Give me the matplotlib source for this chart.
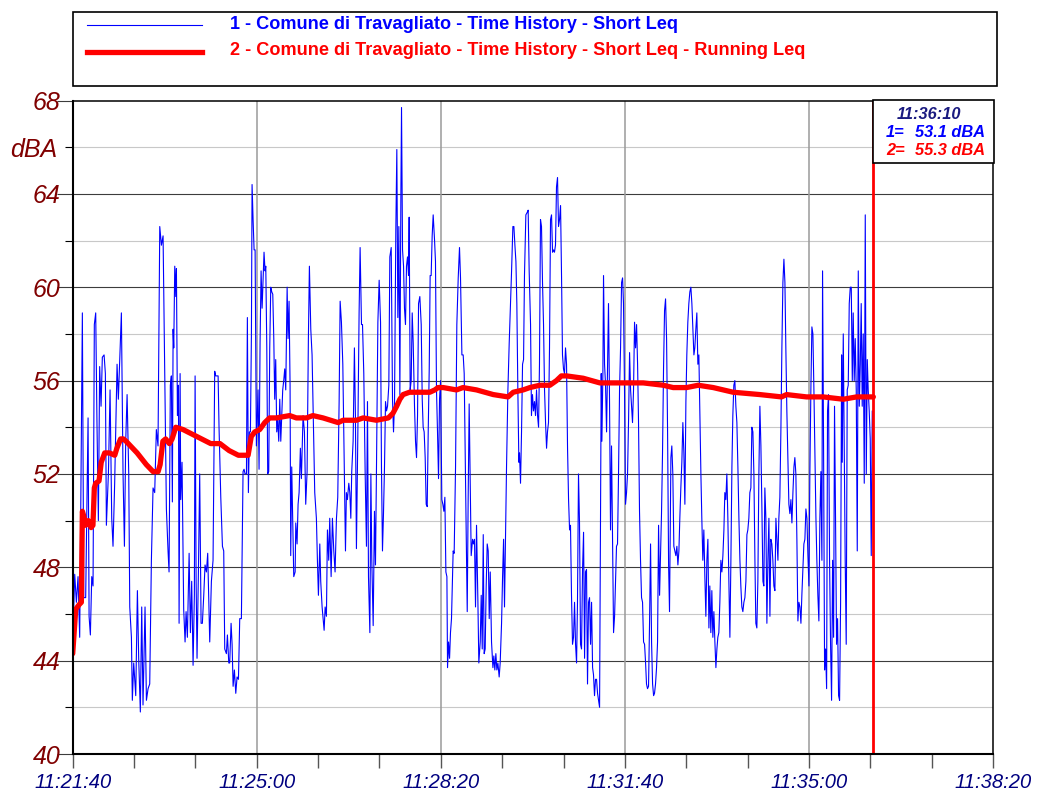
import matplotlib
matplotlib.use("Agg")
import matplotlib.pyplot as plt
from matplotlib.ticker import FixedLocator, FixedFormatter
from matplotlib.patches import Rectangle
from matplotlib.lines import Line2D

# ---------------- data ----------------
series1_name = "1 - Comune di Travagliato - Time History - Short Leq"
series2_name = "2 - Comune di Travagliato - Time History - Short Leq - Running Leq"

x_tick_seconds = [0, 200, 400, 600, 800, 1000]
x_tick_labels = ["11:21:40", "11:25:00", "11:28:20", "11:31:40", "11:35:00", "11:38:20"]
y_major_ticks = [40, 44, 48, 52, 56, 60, 64, 68]
y_minor_ticks = [42, 46, 50, 54, 58, 62, 66]
y_unit = "dBA"

cursor_seconds = 870
cursor_label = "11:36:10"
cursor_value1 = 53.1
cursor_value2 = 55.3

# Short Leq (series 1): seconds from 11:21:40, level in dBA
short_t = [
    0.0, 2.2, 4.0, 5.8, 7.6, 10.5, 12.0, 14.1, 16.7, 17.8,
    19.2, 20.7, 22.1, 23.5, 25.0, 26.4, 27.9, 29.3, 30.8, 32.2,
    34.1, 35.5, 36.6, 38.8, 40.6, 42.4, 43.8, 45.6, 48.2, 49.6,
    51.1, 52.9, 54.7, 56.2, 57.6, 59.1, 60.9, 62.0, 63.8, 64.8,
    66.3, 68.5, 70.3, 71.7, 73.5, 75.0, 76.4, 78.6, 80.1, 81.9,
    83.7, 85.5, 87.3, 89.1, 90.9, 92.7, 94.6, 96.4, 98.2, 100.0,
    101.8, 103.6, 104.7, 106.1, 107.2, 108.3, 109.1, 109.8, 110.9, 112.0,
    112.7, 113.8, 114.9, 115.6, 116.7, 117.4, 118.8, 120.6, 122.1, 123.2,
    124.6, 126.5, 127.9, 129.3, 130.8, 132.2, 133.0, 134.1, 135.1, 136.6,
    138.0, 139.5, 140.9, 142.4, 143.8, 145.3, 146.7,
    148.9, 150.7, 152.5, 154.3, 155.4, 156.9, 158.0, 159.0, 160.9, 162.7,
    164.1, 165.2, 167.0, 168.1, 169.6, 170.6, 172.1, 173.2, 174.3, 175.7,
    177.2, 178.6, 180.1, 181.5, 183.3, 185.1, 186.2, 187.3, 188.8, 189.8,
    190.9, 192.0, 193.1, 194.2, 194.9, 196.0, 197.1, 198.2, 199.6, 201.4,
    202.5, 203.6, 204.7, 205.8, 206.9, 207.9, 209.0, 209.8, 210.9, 211.9,
    213.0, 214.1, 215.2, 216.3, 217.4, 218.5, 219.5, 220.6, 221.7, 222.8,
    223.9, 225.0, 226.1, 227.2, 228.2, 229.3, 230.4, 231.5, 233.0, 234.0,
    235.1, 236.2, 236.9, 238.0, 239.1, 240.2, 241.7, 242.4, 243.8, 244.9,
    246.0, 247.4, 248.5, 250.3, 251.8, 253.2, 254.7, 256.1, 257.2, 258.7,
    260.1, 261.6, 263.0, 264.8, 265.9, 267.0, 268.5, 269.5, 271.0, 272.1,
    273.2, 274.3, 275.7, 276.8, 278.2, 279.3, 280.8, 282.2, 283.7, 285.1,
    286.6, 288.0, 289.5, 290.6, 292.0, 293.5, 294.9, 296.4, 297.4, 298.5,
    300.0, 301.1, 302.2, 303.2, 304.7, 306.1, 307.2, 308.3, 309.8, 311.2,
    312.3,
    313.8, 314.9, 316.3, 317.8, 319.2, 320.3, 321.4, 322.9, 324.0, 325.0,
    326.5, 327.9, 329.0, 330.1, 331.6, 333.0, 334.5, 335.5, 336.6, 337.7,
    338.8, 339.9, 341.0, 342.1, 343.5, 344.6, 346.1, 347.5, 348.6, 349.7,
    351.1, 352.2, 353.3, 354.4, 355.5, 356.6, 357.3, 358.4, 359.5, 360.5,
    361.6, 362.7, 363.8, 364.9, 365.6, 366.7, 367.8, 368.9, 370.0, 371.4,
    372.5, 373.6, 374.7, 375.8, 377.2, 378.7, 379.8, 380.8, 381.9, 383.0,
    384.1, 385.2, 386.3, 387.4, 388.4, 389.5, 390.6, 391.7, 393.2, 394.2,
    395.3, 396.4, 397.5, 398.6, 399.7, 401.1, 402.2, 403.3, 404.4, 405.5,
    406.6, 407.3, 408.4, 409.5, 410.5, 411.6, 413.4, 414.5, 416.0, 417.4,
    418.9, 420.3, 421.4, 422.9, 424.3, 425.4, 426.5, 427.6, 428.7, 429.7,
    430.8, 431.9, 433.0, 434.5, 435.5, 436.6, 437.7, 438.8, 440.3, 441.3,
    442.8, 443.9, 445.0, 446.1, 447.1, 448.2, 449.3, 450.4, 451.5, 452.6,
    453.7, 455.1, 456.6, 457.6, 458.7, 459.8, 460.9, 462.0, 463.4, 464.5,
    466.0, 467.1, 468.2, 469.2, 470.3, 471.4, 472.9, 474.3, 475.8, 476.8,
    478.3, 479.4, 480.5, 481.6, 482.6, 483.7, 484.8,
    485.5, 486.6, 487.7, 488.8, 489.9, 490.9, 492.4, 493.8, 494.9, 496.0,
    497.5, 498.5, 499.6, 500.7, 501.8, 502.9, 504.0, 505.1, 506.2, 507.2,
    508.3, 509.4, 510.5, 511.6, 512.7, 513.8, 514.9, 515.9, 517.0, 518.1,
    519.2, 520.3, 521.4, 522.5, 523.5, 524.6, 525.7, 526.8, 527.9, 529.0,
    530.1, 531.2, 532.2, 533.3, 534.4, 535.5, 536.6, 537.7, 538.8, 539.9,
    540.9, 542.0, 543.1, 544.2, 545.3, 546.4, 547.5, 548.5, 549.6, 550.7,
    551.8, 552.9, 554.0, 555.1, 556.2, 557.2, 558.3, 559.4, 560.5, 561.6,
    562.7, 563.8, 564.9, 565.9, 567.0, 568.1, 569.2, 570.3, 571.4, 572.5,
    573.5, 574.3, 575.0, 576.1, 576.8, 577.9, 579.0, 580.1, 581.2, 582.2,
    583.3, 584.4, 585.5, 586.6, 587.7, 588.8, 589.8, 590.9, 592.0, 593.1,
    594.2, 595.3, 596.4, 597.5, 598.5, 599.6, 600.7, 601.8, 602.9, 604.0,
    605.1, 606.2, 607.2, 608.3, 609.4, 610.5, 611.6, 612.7, 613.8, 614.8,
    615.9, 617.0, 618.1, 619.2, 620.3, 621.4, 622.5, 623.5, 624.6, 625.7,
    626.8, 627.9, 629.0, 630.1, 631.2, 632.2, 633.3, 634.4, 635.5, 636.6,
    637.7, 638.8, 639.8, 640.9, 642.0, 643.1, 644.2, 645.3, 646.4, 647.5,
    648.5,
    650.0, 651.0, 652.1, 653.2, 654.3, 655.4, 656.5, 657.6, 658.7, 659.7,
    660.8, 661.9, 663.0, 664.1, 665.2, 666.3, 667.3, 668.4, 669.5, 670.6,
    671.7, 672.8, 673.9, 675.0, 676.0, 677.1, 678.2, 679.3, 680.4, 681.5,
    682.6, 683.6, 684.7, 685.8, 686.9, 688.0, 689.1, 690.2, 691.3, 692.3,
    693.4, 694.5, 695.6, 696.7, 697.8, 698.9, 700.0, 701.0, 702.1, 703.2,
    704.3, 705.4, 706.5, 707.6, 708.6, 709.7, 710.8, 711.9, 713.0, 714.1,
    715.2, 716.3, 717.3, 718.4, 719.5, 720.6, 721.7, 722.8, 723.9, 725.0,
    726.0, 727.1, 728.2, 729.3, 730.4, 731.5, 732.6, 733.6, 734.7, 735.8,
    736.9, 738.0, 739.1, 740.2, 741.3, 742.3, 743.4, 744.5, 745.6, 746.7,
    747.8, 748.9, 750.0, 751.0, 752.1, 753.2, 754.3, 755.4, 756.5, 757.6,
    758.6, 759.7, 760.8, 761.9, 763.0, 764.1, 765.2, 766.3, 767.3, 768.4,
    769.5, 770.6, 771.7, 772.8, 773.9, 774.9, 776.0, 777.1, 778.2,
    779.3, 780.4, 781.5, 782.6, 783.7, 784.7, 785.8, 786.9, 788.0, 789.1,
    790.2, 791.3, 792.3, 793.4, 794.5, 795.6, 796.7, 797.8, 798.9, 800.0,
    801.0, 802.1, 803.2, 804.3, 805.4, 806.5, 807.6, 808.6, 809.7, 810.8,
    811.9, 813.0, 814.1, 814.8, 815.9, 817.0, 818.1, 819.2, 820.2, 821.3,
    822.4, 823.5, 824.6, 825.7, 826.8, 827.8, 828.9, 830.0, 831.1, 832.2,
    833.3, 834.4, 835.5, 836.2, 837.3, 838.4, 839.4, 840.5, 841.6, 842.7,
    843.8, 844.9, 846.0, 847.1, 848.1, 849.2, 850.3, 851.4, 852.5, 853.6,
    854.7, 855.8, 856.8, 857.9, 859.0, 860.1, 861.2, 862.3, 863.4, 864.4,
    865.5, 866.6, 867.7, 868.8, 870.0,
]
short_db = [
    44.7, 47.7, 46.5, 47.6, 45.0, 58.9, 46.7, 46.7, 54.4, 45.9,
    45.1, 47.6, 47.2, 58.4, 58.9, 54.1, 50.0, 56.6, 54.9, 57.0,
    57.1, 56.3, 49.8, 52.0, 55.6, 50.1, 48.9, 51.6, 56.7, 55.2,
    56.9, 58.9, 52.0, 48.9, 53.4, 55.4, 52.0, 46.3, 45.0, 42.3,
    43.9, 42.5, 47.0, 44.1, 41.8, 46.3, 42.1, 46.3, 42.3, 42.8,
    43.0, 48.3, 51.4, 51.2, 53.9, 53.2, 62.6, 61.8, 62.2, 56.5,
    50.5, 48.7, 47.8, 55.8, 56.2, 50.8, 58.2, 57.4, 60.9, 59.6,
    60.8, 54.5, 55.8, 45.6, 56.3, 50.9, 52.5, 46.2, 44.8, 46.1,
    45.0, 48.6, 45.2, 47.4, 43.8, 46.8, 56.2, 47.4, 44.1, 47.8,
    52.0, 45.6, 45.6, 46.8, 48.1, 47.8, 48.6,
    44.8, 47.4, 48.3, 56.4, 56.2, 56.2, 56.2, 54.0, 51.0, 48.9,
    48.7, 44.5, 44.3, 45.1, 43.9, 43.9, 45.6, 44.7, 42.9, 43.6,
    42.6, 43.3, 43.2, 45.8, 45.8, 52.1, 52.2, 52.0, 52.0, 58.7,
    51.2, 53.8, 53.8, 58.0, 64.4, 62.9, 61.6, 61.6, 53.2, 55.6,
    52.2, 57.6, 60.7, 59.1, 60.4, 61.5, 60.7, 60.9, 57.4, 52.0,
    52.1, 57.4, 60.0, 59.8, 59.7, 57.8, 55.2, 56.9, 53.8, 54.3,
    53.4, 55.2, 53.4, 54.5, 55.6, 56.0, 56.5, 55.6, 60.0, 57.8,
    59.4, 55.8, 48.5, 52.3, 49.9, 47.6, 47.8, 49.9, 49.0, 50.7,
    51.2, 53.1, 51.8, 54.5, 53.8, 50.7, 52.1, 57.8, 60.9, 58.2,
    57.1, 54.0, 51.2, 50.1, 48.3, 46.8, 49.0, 47.4, 46.3, 45.8,
    45.3, 46.3, 45.9, 49.6, 48.3, 50.1, 47.6, 50.1, 48.7, 47.8,
    50.1, 51.0, 55.1, 59.4, 58.5, 56.7, 52.9, 48.7, 51.2, 50.9,
    51.6, 51.2, 50.1, 52.1, 53.4, 57.4, 54.5, 48.8, 53.6, 58.9,
    61.7,
    58.4, 58.4, 56.3, 52.0, 48.9, 55.1, 47.6, 45.2, 52.0, 48.3,
    45.5, 50.4, 48.1, 52.3, 58.5, 60.3, 58.5, 52.3, 48.7, 50.3,
    52.3, 55.1, 54.7, 54.9, 55.8, 61.3, 61.7, 55.2, 53.8, 55.1,
    62.4, 65.9, 58.7, 62.6, 55.4, 64.0, 67.7, 61.6, 60.9, 59.1,
    58.4, 60.9, 61.3, 60.5, 63.0, 55.6, 56.0, 58.9, 57.6, 54.9,
    53.4, 52.7, 54.5, 59.3, 59.6, 58.4, 55.2, 54.0, 53.8, 52.7,
    50.7, 50.6, 53.8, 56.5, 60.5, 60.5, 62.2, 63.1, 62.0, 61.1,
    55.6, 53.8, 51.8, 55.2, 56.0, 50.9, 50.7, 50.4, 51.0, 47.8,
    47.6, 43.7, 44.8, 44.1, 45.2, 45.8, 48.7, 48.6, 52.3, 58.4,
    60.4, 61.7, 60.4, 57.1, 57.1, 56.3, 52.7, 49.4, 46.1, 50.9,
    55.0, 51.6, 48.5, 49.2, 49.0, 49.2, 46.3, 49.8, 46.5, 43.9,
    44.8, 46.8, 44.5, 49.4, 44.3, 44.5, 47.2, 49.0, 48.7, 45.8,
    47.8, 44.8, 43.7, 44.2, 43.6, 44.3, 43.6, 43.9, 43.3, 43.9,
    45.6, 47.6, 49.2, 46.3, 49.2, 52.3, 55.6, 57.6, 59.4, 60.6,
    62.6, 62.6, 61.8, 61.1, 59.3, 55.6, 52.5,
    52.9, 51.6, 53.8, 56.7, 56.9, 60.5, 63.1, 63.2, 63.3, 60.7,
    58.4, 54.5, 55.4, 54.7, 55.1, 54.5, 55.6, 54.5, 54.0, 56.7,
    62.9, 62.6, 60.2, 58.4, 55.6, 54.2, 53.1, 53.8, 54.2, 57.4,
    62.9, 63.1, 61.5, 61.6, 61.5, 61.8, 64.3, 64.7, 62.6, 62.9,
    63.5, 60.4, 57.1, 56.5, 56.3, 57.4, 56.7, 53.1, 50.9, 49.6,
    49.8, 46.8, 44.7, 45.0, 46.5, 44.7, 43.9, 46.5, 52.0, 49.9,
    44.7, 44.5, 47.9, 49.5, 44.1, 47.8, 47.9, 43.0, 46.5, 46.7,
    44.7, 46.5, 43.7, 43.4, 42.5, 43.2, 43.2, 42.6, 42.3, 42.0,
    50.1, 56.3, 53.4, 56.3, 60.5, 56.7, 55.8, 53.8, 56.7, 59.3,
    55.2, 49.6, 53.2, 49.2, 45.2, 45.9, 47.4, 48.9, 49.0, 52.0,
    55.6, 57.4, 60.2, 60.4, 59.3, 55.6, 50.7, 51.2, 52.0, 54.3,
    57.2, 55.6, 54.9, 54.2, 55.6, 58.5, 57.4, 58.4, 56.7, 54.3,
    50.4, 48.3, 46.7, 46.5, 44.8, 44.7, 43.9, 43.0, 42.8, 42.9,
    45.6, 49.0, 44.8, 43.0, 42.5, 42.6, 43.0, 43.7, 44.8, 49.8,
    46.8, 48.7, 50.3, 52.9, 56.5, 59.0, 59.5, 57.8, 53.8, 48.1,
    46.1,
    52.7, 53.2, 52.0, 48.9, 48.7, 48.5, 48.9, 48.1, 48.7, 50.1,
    51.4, 52.5, 54.2, 52.9, 50.7, 55.1, 57.1, 58.5, 59.3, 59.8,
    60.0, 59.3, 58.2, 57.1, 57.4, 58.2, 58.9, 56.7, 57.1, 54.5,
    52.0, 50.1, 48.3, 49.6, 47.6, 45.9, 48.3, 49.2, 45.4, 47.2,
    45.2, 47.0, 45.0, 46.1, 44.8, 43.7, 44.5, 45.0, 45.2, 46.5,
    48.3, 47.8, 48.5, 49.6, 51.2, 50.9, 52.0, 50.1, 47.4, 45.0,
    48.3, 52.3, 54.5, 55.8, 56.0, 54.9, 54.2, 52.3, 50.1, 48.3,
    47.2, 46.3, 46.1, 46.5, 46.7, 47.4, 49.4, 49.6, 50.1, 51.2,
    51.4, 54.0, 53.8, 52.0, 48.3, 45.6, 45.4, 47.4, 52.0, 54.9,
    53.2, 50.5, 47.4, 47.2, 51.4, 50.1, 45.6, 48.3, 50.1, 45.9,
    49.2, 49.0, 48.3, 47.2, 47.0, 50.1, 49.2, 48.3, 50.1, 51.0,
    53.8, 57.4, 60.2, 61.2, 60.2, 57.4, 54.7, 52.7, 50.7,
    50.3, 50.9, 49.9, 51.2, 52.3, 52.7, 52.0, 49.2, 45.7, 46.5,
    46.3, 45.6, 46.8, 47.9, 49.0, 49.2, 50.5, 50.1, 48.5, 47.2,
    52.0, 55.6, 58.3, 58.0, 55.6, 52.9, 50.1, 48.3, 46.8, 45.7,
    50.1, 52.1, 48.3, 60.7, 53.1, 43.6, 44.5, 42.8, 54.7, 55.4,
    48.3, 44.7, 42.3, 48.3, 45.0, 54.9, 50.1, 44.7, 45.8, 42.5,
    42.3, 46.5, 57.1, 52.5, 58.0, 52.7, 48.3, 44.7, 55.6, 55.8,
    59.3, 60.0, 60.0, 56.0, 58.9, 56.0, 57.8, 55.6, 48.7, 60.7,
    54.9, 56.7, 59.3, 54.9, 58.0, 51.6, 63.1, 52.0, 56.9, 55.6,
    54.7, 53.5, 48.5, 54.7, 53.1,
]

# Running Leq (series 2)
running_t = [
    0, 3.3, 7, 9.4, 10.5, 12, 14, 17, 20, 22, 23.5, 25, 28.6, 31, 34.8, 40,
    45.7, 48, 52, 55, 58, 70, 80, 87.3, 92.8, 95, 98, 101, 105, 108, 112, 120,
    135, 150, 160, 170, 180, 190.6, 194, 197.8, 203.2, 208.7, 214, 221.4,
    235.8, 243, 254, 261, 272, 288.4, 293.8, 308.3, 315.6, 330, 343, 348, 352,
    355.5, 359, 366, 377, 388, 393.5, 397, 402.6, 417, 424, 438.8, 457, 473,
    478.7, 489.5, 496.7, 507.6, 518.5, 525.7, 531, 536.6, 554.7, 572.8, 594.6,
    620, 641.7, 652.5, 667, 679.7, 696, 717.7, 746.7, 770.2, 775.7, 797.4,
    815.5, 837.3, 851.8, 870,
]
running_db = [
    44.3, 46.2, 46.4, 46.5, 50.4, 50.2, 49.8, 50.0, 49.7, 49.8, 51.4, 51.6, 51.7, 52.5, 52.9, 52.9,
    52.8, 53.1, 53.5, 53.5, 53.4, 52.9, 52.4, 52.1, 52.1, 52.4, 53.4, 53.5, 53.3, 53.5, 54.0, 53.9,
    53.6, 53.3, 53.3, 53.0, 52.8, 52.8, 53.6, 53.8, 53.9, 54.2, 54.4, 54.4,
    54.5, 54.4, 54.4, 54.5, 54.4, 54.2, 54.3, 54.3, 54.4, 54.3, 54.4, 54.6, 54.9,
    55.2, 55.4, 55.5, 55.5, 55.5, 55.6, 55.7, 55.7, 55.6, 55.7, 55.6, 55.4, 55.3,
    55.5, 55.6, 55.7, 55.8, 55.8, 56.0, 56.2, 56.2, 56.1, 55.9, 55.9,
    55.9, 55.8, 55.7, 55.7, 55.8, 55.7, 55.5, 55.4, 55.3, 55.4, 55.3,
    55.3, 55.2, 55.3, 55.3,
]

# ---------------- figure ----------------
W, H = 1039, 790
plt.rcParams["font.family"] = ["Liberation Sans", "DejaVu Sans"]
plt.rcParams["font.style"] = "italic"

fig = plt.figure(figsize=(W / 100, H / 100), dpi=100)
ax = fig.add_axes([72.7 / W, 1 - 754 / H, (993 - 72.7) / W, (754 - 100.5) / H])

blue = "#0000FF"
red = "#FF0000"

# grid
for y in y_minor_ticks:
    ax.axhline(y, color="#c8c8c8", lw=0.8, zorder=1)
for y in y_major_ticks[1:-1]:
    ax.axhline(y, color="#3c3c3c", lw=0.8, zorder=1)
for x in x_tick_seconds[1:-1]:
    ax.axvline(x, color="#9a9a9a", lw=1.1, zorder=1)

ax.plot(short_t, short_db, color=blue, lw=0.8, zorder=3)
ax.plot(running_t, running_db, color=red, lw=3.8, zorder=4,
        solid_joinstyle="round", solid_capstyle="round")
ax.axvline(cursor_seconds, color=red, lw=2.0, zorder=5)

ax.set_xlim(x_tick_seconds[0], x_tick_seconds[-1])
ax.set_ylim(y_major_ticks[0], y_major_ticks[-1])

# ticks
step = (x_tick_seconds[1] - x_tick_seconds[0]) / 3
x_minor = [x_tick_seconds[0] + k * step for k in range(16) if k % 3]
ax.xaxis.set_major_locator(FixedLocator(x_tick_seconds))
ax.xaxis.set_major_formatter(FixedFormatter(x_tick_labels))
ax.xaxis.set_minor_locator(FixedLocator(x_minor))
ax.yaxis.set_major_locator(FixedLocator(y_major_ticks))
ax.yaxis.set_major_formatter(FixedFormatter([str(v) for v in y_major_ticks]))
ax.yaxis.set_minor_locator(FixedLocator(y_minor_ticks))
ax.yaxis.set_minor_formatter(FixedFormatter([y_unit if v == 66 else "" for v in y_minor_ticks]))

ax.tick_params(axis="y", which="major", direction="out", length=11.5, width=0.8,
               pad=-2.6, labelsize=18, labelcolor="#800000", color="#3c3c3c")
ax.tick_params(axis="y", which="minor", direction="out", length=5.8, width=0.8,
               pad=5.5, labelsize=18, labelcolor="#800000", color="black")
ax.tick_params(axis="x", which="both", direction="out", length=10, width=1.0,
               pad=3.6, labelsize=14.5, labelcolor="#000080", color="#555555")

for side in ["left", "bottom"]:
    ax.spines[side].set_linewidth(1.5)
for side in ["top", "right"]:
    ax.spines[side].set_linewidth(1.1)
for s in ax.spines.values():
    s.set_color("black")
    s.set_zorder(6)

# legend box at the top
fig.patches.append(Rectangle((73 / W, 1 - 85.7 / H), (997 - 73) / W, (85.7 - 11.7) / H,
                             transform=fig.transFigure, fill=False, ec="black", lw=1.2))
fig.lines.append(Line2D([87 / W, 202 / W], [1 - 25 / H] * 2, transform=fig.transFigure,
                        color=blue, lw=0.8))
fig.lines.append(Line2D([87 / W, 202 / W], [1 - 51.5 / H] * 2, transform=fig.transFigure,
                        color=red, lw=3.8))
fig.text(230 / W, 1 - 24.5 / H, series1_name, color=blue, fontsize=13.1, fontweight="bold",
         fontstyle="normal", va="center", ha="left")
fig.text(230 / W, 1 - 50.5 / H, series2_name, color=red, fontsize=13.1, fontweight="bold",
         fontstyle="normal", va="center", ha="left")

# cursor readout box
ax.add_patch(Rectangle((0.870, 0.904), 0.1314, 0.0972, transform=ax.transAxes, clip_on=False,
                       facecolor="white", edgecolor="black", lw=1.2, zorder=10))
ax.text(0.9305, 0.979, cursor_label, transform=ax.transAxes, color="#1a1a80", fontsize=11.8,
        fontweight="bold", ha="center", va="center", zorder=11)
ax.text(0.8837, 0.951, "1=", transform=ax.transAxes, color=blue, fontsize=11.8,
        fontweight="bold", ha="left", va="center", zorder=11)
ax.text(0.9913, 0.951, f"{cursor_value1:.1f} dBA", transform=ax.transAxes, color=blue,
        fontsize=11.8, fontweight="bold", ha="right", va="center", zorder=11)
ax.text(0.8837, 0.923, "2=", transform=ax.transAxes, color=red, fontsize=11.8,
        fontweight="bold", ha="left", va="center", zorder=11)
ax.text(0.9913, 0.923, f"{cursor_value2:.1f} dBA", transform=ax.transAxes, color=red,
        fontsize=11.8, fontweight="bold", ha="right", va="center", zorder=11)

fig.savefig("out.png", dpi=100)
